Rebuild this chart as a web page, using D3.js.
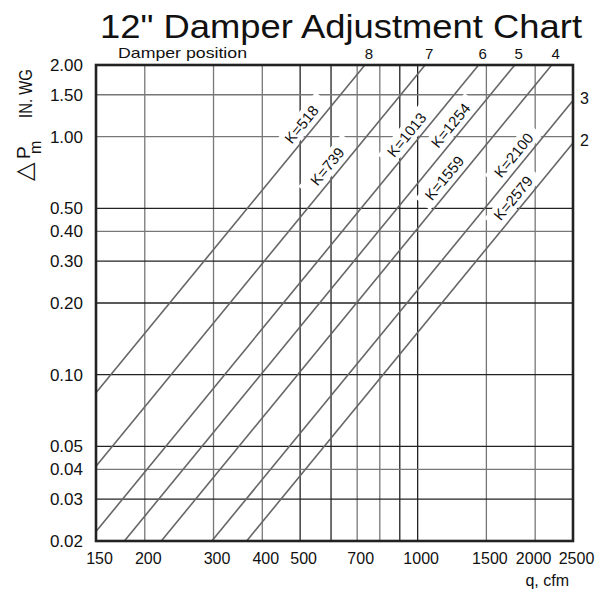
<!DOCTYPE html>
<html>
<head>
<meta charset="utf-8">
<script src="https://cdn.jsdelivr.net/npm/d3@7"></script>
<style>
  body { margin: 0; background: #fff; }
  svg text { font-family: "Liberation Sans", Arial, sans-serif; fill: #111; }
</style>
</head>
<body>
<svg id="chart"></svg>
<script>
// chart values
var kValues = [518, 739, 1013, 1254, 1559, 2100, 2579];
var damperPositions = ["8", "7", "6", "5", "4", "3", "2"];
var labelDP = [1.05, 0.70, 0.95, 1.04, 0.625, 0.78, 0.515]; // where each K label sits along its line
var xTicks = [150, 200, 300, 400, 500, 700, 1000, 1500, 2000, 2500];
var xGrid = [200, 300, 400, 500, 600, 700, 800, 900, 1000, 1500, 2000];
var yTicks = [2.00, 1.50, 1.00, 0.50, 0.40, 0.30, 0.20, 0.10, 0.05, 0.04, 0.03, 0.02];

// which grid lines are printed darker
var darkX = [500, 600, 900, 1000];
var darkY = [0.5, 0.3, 0.2, 0.1, 0.05, 0.03];

var svgWidth = 614, svgHeight = 592;
var plot = { left: 96, right: 573, top: 65, bottom: 541 };

var svg = d3.select('#chart')
  .attr('width', svgWidth)
  .attr('height', svgHeight);

var x = d3.scaleLog().domain([150, 2500]).range([plot.left, plot.right]);
var y = d3.scaleLog().domain([0.02, 2]).range([plot.bottom, plot.top]);

/* title */
svg.append('text')
  .attr('x', 341).attr('y', 38)
  .attr('text-anchor', 'middle')
  .attr('font-size', 33)
  .attr('textLength', 482)
  .attr('lengthAdjust', 'spacingAndGlyphs')
  .text('12" Damper Adjustment Chart');

svg.append('text')
  .attr('x', 118).attr('y', 58)
  .attr('font-size', 15)
  .attr('textLength', 129)
  .attr('lengthAdjust', 'spacingAndGlyphs')
  .text('Damper position');

/* grid */
var grid = svg.append('g');
grid.selectAll('line.v')
  .data(xGrid)
  .enter().append('line')
  .attr('class', 'v')
  .attr('x1', d => x(d)).attr('x2', d => x(d))
  .attr('y1', plot.top).attr('y2', plot.bottom)
  .attr('stroke', d => darkX.indexOf(d) >= 0 ? '#222' : '#777')
  .attr('stroke-width', 1.3);

grid.selectAll('line.h')
  .data(yTicks.filter(d => d < 2 && d > 0.02))
  .enter().append('line')
  .attr('class', 'h')
  .attr('x1', plot.left).attr('x2', plot.right)
  .attr('y1', d => y(d)).attr('y2', d => y(d))
  .attr('stroke', d => darkY.indexOf(d) >= 0 ? '#222' : '#777')
  .attr('stroke-width', 1.3);

/* axes */
svg.append('g')
  .attr('transform', 'translate(' + plot.left + ',0)')
  .call(d3.axisLeft(y).tickValues(yTicks).tickFormat(d3.format('.2f')).tickSize(0).tickPadding(13))
  .call(g => g.select('.domain').remove())
  .call(g => g.selectAll('text').attr('font-size', 17).attr('fill', '#111')
    .style('font-family', '"Liberation Sans", Arial, sans-serif'));

svg.append('g')
  .attr('transform', 'translate(0,' + plot.bottom + ')')
  .call(d3.axisBottom(x).tickValues(xTicks).tickFormat(d => d).tickSize(0).tickPadding(12))
  .call(g => g.select('.domain').remove())
  .call(g => g.selectAll('text').attr('font-size', 16).attr('fill', '#111')
    .attr('dx', d => d === 2000 ? -2 : 3)
    .style('font-family', '"Liberation Sans", Arial, sans-serif'));

svg.append('text')
  .attr('x', 569).attr('y', 586)
  .attr('text-anchor', 'end')
  .attr('font-size', 16)
  .text('q, cfm');

/* y axis title, rotated */
var yt = svg.append('g').attr('transform', 'translate(32,181) rotate(-90)');
yt.append('text').attr('x', 0).attr('y', 0).attr('font-size', 24)
  .style('font-family', '"DejaVu Sans", sans-serif').text('\u25B3');
yt.append('text').attr('x', 22).attr('y', -2).attr('font-size', 19).text('P');
yt.append('text').attr('x', 27).attr('y', 9).attr('font-size', 16).text('m');
yt.append('text').attr('x', 63).attr('y', 0).attr('font-size', 18)
  .attr('textLength', 49).attr('lengthAdjust', 'spacingAndGlyphs').text('IN. WG');

/* K lines: dP = (q / K)^2 */
var ends = x.domain();
var lines = kValues.map(k => ends.map(q => ({ q: q, dp: (q / k) * (q / k) })));
var angle = Math.atan2(y(4) - y(1), x(2) - x(1)) * 180 / Math.PI;

svg.append('clipPath').attr('id', 'plotclip')
  .append('rect')
  .attr('x', plot.left).attr('y', plot.top)
  .attr('width', plot.right - plot.left).attr('height', plot.bottom - plot.top);

// white boxes behind the K labels cut the grid
var labels = svg.append('g');
var lab = labels.selectAll('g')
  .data(kValues)
  .enter().append('g')
  .attr('transform', (k, i) => 'translate(' + x(k * Math.sqrt(labelDP[i])) + ',' + y(labelDP[i]) + ') rotate(' + angle + ')');

lab.append('rect')
  .attr('x', -34).attr('y', -21)
  .attr('width', 68).attr('height', 19)
  .attr('fill', '#fff');

var line = d3.line()
  .x(d => x(d.q))
  .y(d => y(d.dp));

svg.append('g')
  .attr('clip-path', 'url(#plotclip)')
  .attr('fill', 'none')
  .attr('stroke', '#666')
  .attr('stroke-width', 1.6)
  .selectAll('path')
  .data(lines)
  .enter().append('path')
  .attr('d', line);

lab.append('text')
  .attr('x', 0).attr('y', -6)
  .attr('text-anchor', 'middle')
  .attr('font-size', 15)
  .attr('fill', '#333')
  .text(k => 'K=' + k);

/* frame */
svg.append('rect')
  .attr('x', plot.left).attr('y', plot.top)
  .attr('width', plot.right - plot.left).attr('height', plot.bottom - plot.top)
  .attr('fill', 'none')
  .attr('stroke', '#222')
  .attr('stroke-width', 2.6);

/* damper positions: where each line leaves the chart */
kValues.forEach(function(k, i) {
  var qTop = k * Math.sqrt(2);
  if (qTop <= 2500) {
    svg.append('text')
      .attr('x', x(qTop) + 4).attr('y', 59)
      .attr('text-anchor', 'middle')
      .attr('font-size', 15)
      .text(damperPositions[i]);
  } else {
    var dpRight = (2500 / k) * (2500 / k);
    svg.append('text')
      .attr('x', 580).attr('y', y(dpRight) + 3)
      .attr('font-size', 16)
      .text(damperPositions[i]);
  }
});
</script>
</body>
</html>
